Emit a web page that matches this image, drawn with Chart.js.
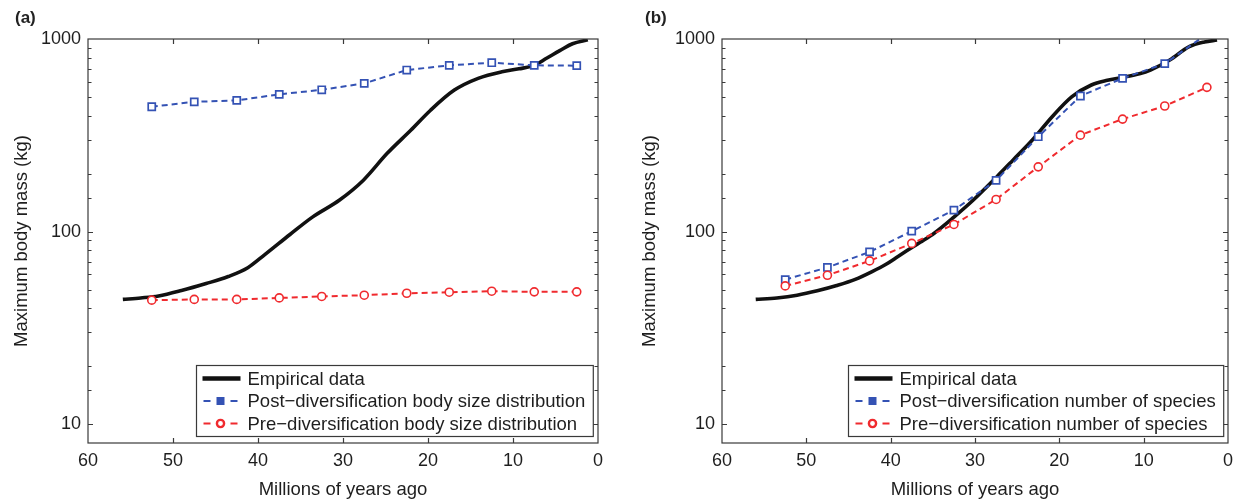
<!DOCTYPE html>
<html>
<head>
<meta charset="utf-8">
<script src="https://cdn.jsdelivr.net/npm/chart.js@4.4.1/dist/chart.umd.min.js"></script>
<style>
  body { margin: 0; background: #fff; width: 1240px; height: 501px; overflow: hidden; position: relative;
         font-family: "Liberation Sans", Arial, sans-serif; }
  .panel { position: absolute; top: 0; width: 620px; height: 501px; }
  .tag { position: absolute; top: 8px; font-weight: bold; font-size: 17px; color: #222; }
</style>
</head>
<body>
<div class="panel" style="left:0"><canvas id="chartA"></canvas></div>
<div class="panel" style="left:620px"><canvas id="chartB"></canvas></div>
<div class="tag" style="left:15px">(a)</div>
<div class="tag" style="left:645px">(b)</div>
<script>
'use strict';

// ── data ─────────────────────────────────────────────────────────────────────
const modelAges = [52.5, 47.5, 42.5, 37.5, 32.5, 27.5, 22.5, 17.5, 12.5, 7.5, 2.5];
const massTicks = [10, 100, 1000];

// (a) body size distribution
const empAgesA = [55.9, 53.8, 51.7, 49, 46.1, 43.5, 41.2, 39.2, 36.2, 33.6, 30.4, 27.6, 24.8, 22.0, 19.7, 16.9, 14.1, 11.3, 9.3, 7.6, 6.0, 4.5, 3.0, 1.2];
const empMassA = [44.5, 45.3, 46.4, 49.5, 53.8, 58.5, 65, 76, 97, 119, 146, 185, 255, 337, 427, 543, 625, 676, 700, 727, 797, 870, 945, 990];
const postSizeA = [445, 472, 480, 516, 545, 588, 690, 730, 753, 730, 727];
const preSizeA  = [44.1, 44.5, 44.5, 45.3, 46.1, 46.8, 47.9, 48.5, 49.1, 48.7, 48.7];

// (b) number of species
const empAgesB = [56.0, 53.5, 51.1, 48.7, 46.4, 44.2, 42.2, 40.6, 39.4, 38.1, 36.5, 34.8, 32.5, 30.2, 27.4, 25.5, 23.2, 20.85, 18.5, 16.2, 14.3, 12.5, 10.5, 9.2, 6.9, 4.6, 2.8, 1.3];
const empMassB = [44.5, 45.3, 46.8, 49.3, 52.5, 56.5, 62, 67.5, 73, 79.5, 88, 98.5, 119, 146, 193, 235, 299, 395, 502, 577, 610, 632, 660, 690, 778, 912, 965, 988];
const postSpeciesB = [56.4, 65.2, 78.5, 100.6, 129.4, 184.5, 311, 506, 625, 745, 1060];
const preSpeciesB  = [52.3, 59.4, 70.5, 86.9, 109, 147, 217, 317, 384, 449, 561];

// ── styles ───────────────────────────────────────────────────────────────────
const FONT = '"Liberation Sans", Arial, sans-serif';
const BLUE = '#3452b4';
const RED = '#f02a2e';
const INK = '#1e1e1e';

const pts = (xs, ys) => xs.map((x, i) => ({ x, y: ys[i] }));

function empiricalSet(ages, mass) {
  return {
    label: 'Empirical data', data: pts(ages, mass), kind: 'line',
    borderColor: '#111', borderWidth: 3.6, pointRadius: 0,
    cubicInterpolationMode: 'monotone', order: 2, clip: 0,
  };
}

function postSet(label, values) {
  return {
    label, data: pts(modelAges, values), kind: 'square',
    borderColor: BLUE, borderWidth: 2, borderDash: [6, 4], tension: 0,
    pointStyle: 'rect', pointRadius: 5, pointBorderWidth: 1.7,
    pointBorderColor: BLUE, pointBackgroundColor: '#fff', order: 1, clip: 0,
  };
}

function preSet(label, values) {
  return {
    label, data: pts(modelAges, values), kind: 'circle',
    borderColor: RED, borderWidth: 2, borderDash: [6, 4], tension: 0,
    pointStyle: 'circle', pointRadius: 4, pointBorderWidth: 1.6,
    pointBorderColor: RED, pointBackgroundColor: '#fff', order: 0, clip: 0,
  };
}

// frame, inward ticks and boxed legend (MATLAB look)
const framePlugin = {
  id: 'frame',
  afterDatasetsDraw(chart) {
    const { ctx, chartArea: a, scales: { x, y } } = chart;
    ctx.save();
    ctx.strokeStyle = '#3a3a3a';
    ctx.lineWidth = 1.2;
    ctx.setLineDash([]);
    ctx.strokeRect(a.left, a.top, a.right - a.left, a.bottom - a.top);

    ctx.beginPath();
    x.ticks.forEach(t => {
      if (t.value <= 0 || t.value >= 60) return;
      const px = Math.round(x.getPixelForValue(t.value)) + 0.5;
      ctx.moveTo(px, a.bottom); ctx.lineTo(px, a.bottom - 5);
      ctx.moveTo(px, a.top); ctx.lineTo(px, a.top + 5);
    });
    y.ticks.forEach(t => {
      if (t.value < 10 || t.value >= 1000) return;
      const len = massTicks.includes(t.value) ? 5 : 3.5;
      const py = Math.round(y.getPixelForValue(t.value)) + 0.5;
      ctx.moveTo(a.left, py); ctx.lineTo(a.left + len, py);
      ctx.moveTo(a.right, py); ctx.lineTo(a.right - len, py);
    });
    ctx.stroke();

    // legend box
    const sets = chart.data.datasets;
    ctx.font = '18.5px ' + FONT;
    const tw = Math.max(...sets.map(d => ctx.measureText(d.label).width));
    const w = 51 + tw + 8, h = 71;
    const lx = Math.round(a.right - 5 - w) + 0.5, ly = Math.round(a.bottom - 7 - h) + 0.5;
    ctx.fillStyle = '#fff';
    ctx.fillRect(lx, ly, w, h);
    ctx.strokeStyle = '#3a3a3a';
    ctx.lineWidth = 1.2;
    ctx.strokeRect(lx, ly, w, h);

    sets.forEach((d, i) => {
      const cy = ly + 13 + i * 22.5;
      ctx.strokeStyle = d.borderColor;
      if (d.kind === 'line') {
        ctx.lineWidth = 4.5;
        ctx.beginPath(); ctx.moveTo(lx + 6, cy); ctx.lineTo(lx + 44, cy); ctx.stroke();
      } else {
        ctx.lineWidth = 2;
        ctx.beginPath();
        ctx.moveTo(lx + 7, cy); ctx.lineTo(lx + 14, cy);
        ctx.moveTo(lx + 34, cy); ctx.lineTo(lx + 41, cy);
        ctx.stroke();
        if (d.kind === 'square') {
          ctx.fillStyle = d.borderColor;
          ctx.fillRect(lx + 20, cy - 4, 8, 8);
        } else {
          ctx.fillStyle = '#fff';
          ctx.lineWidth = 2.4;
          ctx.beginPath(); ctx.arc(lx + 24, cy, 3.6, 0, Math.PI * 2); ctx.fill(); ctx.stroke();
        }
      }
      ctx.fillStyle = INK;
      ctx.textBaseline = 'middle';
      ctx.textAlign = 'left';
      ctx.fillText(d.label, lx + 51, cy + 1);
    });
    ctx.restore();
  }
};

function makeChart(id, datasets, yWidth, yTitlePad, rightPad) {
  return new Chart(document.getElementById(id), {
    type: 'line',
    data: { datasets },
    options: {
      responsive: true,
      maintainAspectRatio: false,
      animation: false,
      layout: { padding: { top: 39, right: rightPad, left: 0, bottom: 0 } },
      plugins: { legend: { display: false }, tooltip: { enabled: false } },
      scales: {
        x: {
          type: 'linear', reverse: true, min: 0, max: 60,
          grid: { display: false, drawTicks: false }, border: { display: false },
          ticks: { stepSize: 10, padding: 7, color: INK, font: { family: FONT, size: 18 } },
          title: { display: true, text: 'Millions of years ago', color: INK,
                   font: { family: FONT, size: 18.5 }, padding: { top: 0, bottom: 0 } },
          afterFit(s) { s.height = 58; },
        },
        y: {
          type: 'logarithmic', min: 8, max: 1000,
          grid: { display: false, drawTicks: false }, border: { display: false },
          ticks: {
            autoSkip: false, padding: 7, color: INK, font: { family: FONT, size: 18 },
            callback: v => massTicks.includes(v) ? String(v) : '',
          },
          title: { display: true, text: 'Maximum body mass (kg)', color: INK,
                   font: { family: FONT, size: 18.5 }, padding: { top: yTitlePad, bottom: 0 } },
          afterFit(s) { s.width = yWidth; },
        },
      },
    },
    plugins: [framePlugin],
  });
}

makeChart('chartA', [
  empiricalSet(empAgesA, empMassA),
  postSet('Post\u2212diversification body size distribution', postSizeA),
  preSet('Pre\u2212diversification body size distribution', preSizeA),
], 88, 11, 22);

makeChart('chartB', [
  empiricalSet(empAgesB, empMassB),
  postSet('Post\u2212diversification number of species', postSpeciesB),
  preSet('Pre\u2212diversification number of species', preSpeciesB),
], 102, 19, 7);
</script>
</body>
</html>
